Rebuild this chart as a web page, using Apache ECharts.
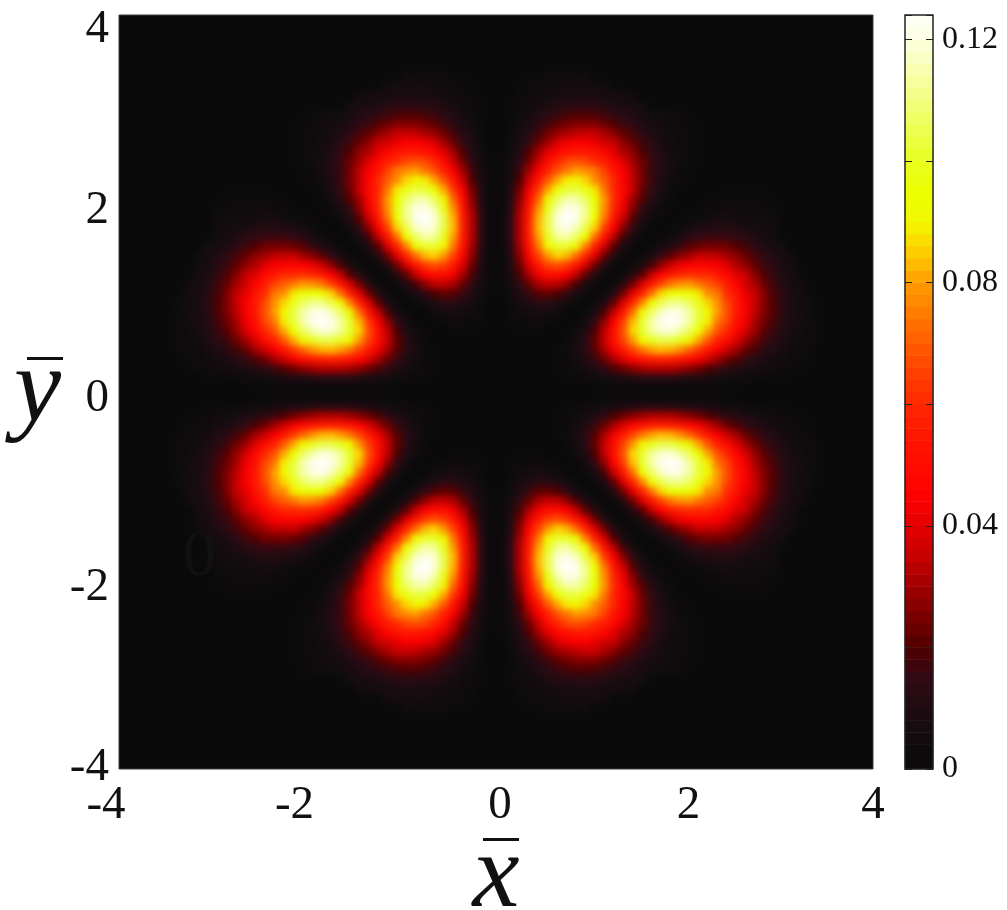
<!DOCTYPE html>
<html>
<head>
<meta charset="utf-8">
<style>
html,body{margin:0;padding:0;background:#fff}
#wrap{position:relative;width:1007px;height:910px;overflow:hidden}
#plotClip{position:absolute;left:119px;top:15px;width:754px;height:754px;overflow:hidden;background:#0a0a0a}
#plot{position:absolute;left:-20px;top:-20px;width:794px;height:794px;filter:blur(3px)}
#c{position:absolute;left:0;top:0;width:1007px;height:910px}
</style>
<script src="https://cdn.jsdelivr.net/npm/echarts@6/dist/echarts.min.js"></script>
</head>
<body>
<div id="wrap">
<div id="plotClip"><div id="plot"></div></div>
<div id="c"></div>
</div>
<script>
// Density in thousandths on a 0.1 grid.
// Row j holds y = 0.05 + 0.1 j, and its first entry is at x = y (x >= y octant of the pattern).
const row00=[0,0,0,0,0,0,0,0,0,0,0,1,1,1,1,1,1,1,1,1,1,1,1,1,1];
const row01=[0,0,0,0,0,0,1,2,3,4,6,7,9,10,12,12,12,12,11,10,9,8,6,5,4,3,2,2,1,1];
const row02=[0,0,0,0,1,2,4,7,10,14,19,23,27,30,32,32,32,30,27,24,20,17,13,11,9,7,5,4,3,2,1];
const row03=[0,0,0,1,3,6,10,16,23,31,39,47,52,56,57,56,53,49,43,36,30,24,20,15,12,8,7,4,3,2,1];
const row04=[0,0,1,3,7,13,21,31,43,55,65,74,80,83,82,78,71,63,53,44,35,30,23,18,13,10,7,4,3,2];
const row05=[0,0,2,6,13,22,35,50,65,79,91,100,104,104,99,91,81,69,57,50,40,30,24,17,13,9,6,4,3];
const row06=[0,1,4,10,20,34,50,68,86,101,112,118,119,114,106,95,81,68,59,47,38,29,21,16,11,7,4,3];
const row07=[0,1,6,15,28,45,64,83,101,114,122,125,122,114,102,89,74,66,52,43,31,24,18,12,8,6,3];
const row08=[0,2,8,19,35,53,73,92,107,117,122,120,114,103,90,80,68,54,44,34,26,19,13,8,6,4];
const row09=[0,2,10,22,39,58,76,93,104,111,111,107,98,86,78,66,55,44,35,26,19,13,8,6,4];
const row10=[0,3,11,24,40,57,73,86,94,97,95,88,78,74,61,53,41,35,26,18,13,8,6];
const row11=[0,3,11,24,38,53,65,74,78,79,74,70,65,56,47,37,31,23,17,11,7,6];
const row12=[0,3,11,21,34,45,54,59,61,59,60,53,48,40,35,27,20,14,10,7];
const row13=[0,3,9,18,28,36,42,45,48,46,44,40,32,28,22,16,13,8,6];
const row14=[0,2,8,15,21,27,30,35,34,34,30,28,23,18,14,10,7,4];
const row15=[0,2,6,11,15,21,23,25,24,24,20,17,14,10,7,6];
const row16=[0,1,4,8,12,15,16,16,16,15,13,10,7,6];
const row17=[0,1,3,6,9,10,11,11,10,8,7,6,4];
const row18=[0,1,2,4,5,7,7,6,6,4,4,3];
const row19=[0,0,1,2,3,4,4,3,3,3,2];
const row20=[0,0,1,1,2,2,2,2,1,1];
const row21=[0,0,0,1,1,1,1,1];
const octantRows=[row00,row01,row02,row03,row04,row05,row06,row07,row08,row09,row10,row11,row12,row13,row14,row15,row16,row17,row18,row19,row20,row21];

const axisTicks=[-4,-2,0,2,4];
const colorbarTicks=[0,0.04,0.08,0.12];
const colorStops=['#0a0a0a','#120c0e','#1e0c12','#320a14','#500000','#780000','#a00000','#c80000','#e40000','#ff0000','#ff0c00','#ff1800','#ff2800','#ff4000','#ff5c00','#ff7c00','#ff9c00','#ffcc00','#f2f800','#ecff00','#e8ff20','#ecff50','#f2ff80','#f8ffb0','#fdffe0','#ffffff'];
const colorbarLevels=[1,3,5,7,9,11,13,15,17,19,21,23,25,27,29,31,33,35,37,39,41,43,45,47,49,51,53,55,57,59,61,63,65,67,69,71,73,75,77,79,81,83,85,87,89,91,93,95,97,99,101,103,105,107,109,111,113,115,117,119,121,123];

const N=40;
function q(i,j){const a=Math.min(i,j),b=Math.max(i,j);const r=octantRows[a];return (r&&r[b-a])||0;}
const cells=[];const cats=[];
for(let k=0;k<2*N;k++)cats.push(k);
for(let j=0;j<2*N;j++)for(let i=0;i<2*N;i++){
  const qi=i<N?N-1-i:i-N,qj=j<N?N-1-j:j-N;
  cells.push([i,j,q(qi,qj)]);
}
const barCells=colorbarLevels.map((v,k)=>[0,k,v]);

const FONT='"Liberation Serif"';
const INK='#111';
const vm=idx=>({type:'continuous',show:false,min:0,max:125,dimension:2,seriesIndex:idx,inRange:{color:colorStops}});

// density field, drawn under the frame chart
const plot=echarts.init(document.getElementById('plot'),null,{renderer:'canvas'});
plot.setOption({
  animation:false,
  backgroundColor:'#0a0a0a',
  grid:{left:20,top:20,width:754,height:754,outerBoundsMode:'none'},
  visualMap:vm([0]),
  xAxis:{type:'category',data:cats,show:false},
  yAxis:{type:'category',data:cats,show:false},
  series:[{type:'heatmap',data:cells,progressive:0,animation:false,itemStyle:{borderWidth:0}}]
});

function richSet(size){
  const s=p=>({fontFamily:FONT,fontSize:size,color:INK,padding:p});
  return {neg:s([0,26,0,0]),pos:s([0,0,0,8]),end:s([0,0,0,0]),
          t30:s([30,0,0,0]),t14:s([14,0,0,0]),b2:s([0,0,2,0])};
}
const xTag={'-4':'neg','-2':'neg','0':'pos','2':'pos','4':'end'};
const yTag={'4':'t30','2':'t14','0':'t14','-2':'t14','-4':'b2'};

const chart=echarts.init(document.getElementById('c'),null,{renderer:'canvas'});
chart.setOption({
  animation:false,
  backgroundColor:'transparent',
  grid:[
    {left:119,top:15,width:754,height:754,show:true,backgroundColor:'transparent',borderColor:'#3a3a3a',borderWidth:1,outerBoundsMode:'none'},
    {left:905,top:15,width:28,height:754,show:true,z:5,backgroundColor:'transparent',borderColor:'#222',borderWidth:1.5,outerBoundsMode:'none'}
  ],
  visualMap:vm([0]),
  xAxis:[
    {type:'value',gridIndex:0,position:'bottom',min:-4,max:4,interval:2,
     name:'x',nameLocation:'middle',nameGap:56,nameMoveOverlap:false,
     nameTextStyle:{fontFamily:FONT,fontStyle:'italic',fontSize:106,color:INK},
     axisLine:{show:false},axisTick:{show:false},splitLine:{show:false},
     axisLabel:{margin:13,customValues:axisTicks,fontFamily:FONT,fontSize:47,color:INK,
       formatter:v=>'{'+xTag[v]+'|'+v+'}',rich:richSet(47)}},
    {type:'category',gridIndex:1,data:['c'],show:false}
  ],
  yAxis:[
    {type:'value',gridIndex:0,position:'left',min:-4,max:4,interval:2,
     name:'y',nameLocation:'middle',nameRotate:0,nameGap:58,nameMoveOverlap:false,
     nameTextStyle:{fontFamily:FONT,fontStyle:'italic',fontSize:106,color:INK},
     axisLine:{show:false},axisTick:{show:false},splitLine:{show:false},
     axisLabel:{margin:10,customValues:axisTicks,fontFamily:FONT,fontSize:47,color:INK,
       formatter:v=>'{'+yTag[v]+'|'+v+'}',rich:richSet(47)}},
    {type:'category',gridIndex:1,data:colorbarLevels,show:false},
    {type:'value',gridIndex:1,position:'left',min:0,max:0.124,interval:0.02,z:6,
     axisLine:{show:false},axisTick:{show:true,inside:true,length:7,lineStyle:{color:'#222',width:1}},
     axisLabel:{show:false},splitLine:{show:false}},
    {type:'value',gridIndex:1,position:'right',min:0,max:0.124,interval:0.02,z:6,
     axisLine:{show:false},axisTick:{show:true,inside:true,length:7,lineStyle:{color:'#222',width:1}},
     splitLine:{show:false},
     axisLabel:{margin:9,customValues:colorbarTicks,fontFamily:FONT,fontSize:32,color:INK,
       formatter:v=>String(v)}}
  ],
  series:[
    {type:'heatmap',xAxisIndex:1,yAxisIndex:1,data:barCells,progressive:0,animation:false,itemStyle:{borderWidth:0}}
  ],
  graphic:[
    {type:'text',left:183,top:525,z:50,style:{text:'0',fontFamily:FONT,fontSize:66,fill:'#111111'}},
    {type:'rect',left:483,top:838,z:50,shape:{width:36,height:3},style:{fill:INK}},
    {type:'rect',left:27,top:357,z:50,shape:{width:36,height:3},style:{fill:INK}}
  ]
});
</script>
</body>
</html>
